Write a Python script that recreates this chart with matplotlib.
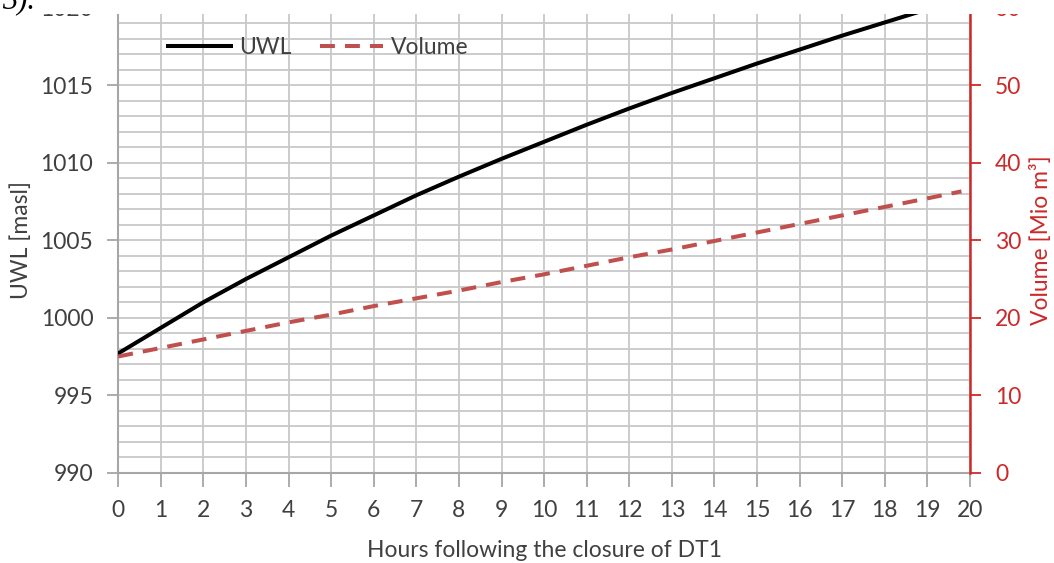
import matplotlib
matplotlib.use("Agg")
import matplotlib.pyplot as plt
from matplotlib.patches import Rectangle
from matplotlib.ticker import MultipleLocator

# ---- data ----
hours = [0, 1, 2, 3, 4, 5, 6, 7, 8, 9, 10, 11, 12, 13, 14, 15, 16, 17, 18, 19, 20]
uwl = [997.7, 999.35, 1001.0, 1002.5, 1003.9, 1005.3, 1006.6, 1007.9, 1009.1, 1010.25,
       1011.35, 1012.45, 1013.5, 1014.5, 1015.45, 1016.4, 1017.3, 1018.2, 1019.05, 1019.9, 1020.75]
vol_hours = [0, 1, 2, 3, 4, 5, 6, 7, 8, 9, 10, 11, 12, 13, 14, 15, 16, 17, 18, 19, 19.8]
volume = [15.0, 16.1, 17.2, 18.3, 19.4, 20.4, 21.5, 22.5, 23.5, 24.6, 25.6,
          26.7, 27.8, 28.8, 29.9, 31.0, 32.1, 33.2, 34.3, 35.4, 36.3]
x_ticks = list(range(0, 21))
left_ticks = [990, 995, 1000, 1005, 1010, 1015, 1020]
right_ticks = [0, 10, 20, 30, 40, 50, 60]

FONT = "Lato"
TXT = "#404040"
GRID = "#c8c8c8"
SPINE = "#a6a6a6"
AXRED = "#cc2a2a"
LINERED = "#c0504d"
FS = 16.5

plt.rcParams["font.family"] = [FONT, "DejaVu Sans"]

W, H = 1054, 563
fig = plt.figure(figsize=(W / 100, H / 100), dpi=100)
ax = fig.add_axes([118.3 / W, 90.3 / H, (970 - 118.3) / W, (472.7 - 7.7) / H])

ax.set_xlim(0, 20)
ax.set_ylim(990, 1020)
ax.set_xticks(x_ticks)
ax.set_yticks(left_ticks)
ax.yaxis.set_minor_locator(MultipleLocator(1))
ax.grid(True, which="both", color=GRID, lw=1.3)
ax.set_axisbelow(True)
ax.tick_params(axis="y", which="minor", length=0)
ax.tick_params(axis="x", direction="out", length=10, width=1.3, color=SPINE,
               labelsize=FS, labelcolor=TXT, pad=10)
ax.tick_params(axis="y", which="major", direction="out", length=8, width=1.3, color=SPINE,
               labelsize=FS, labelcolor=TXT, pad=10)
for s in ["left", "bottom"]:
    ax.spines[s].set_color(SPINE)
    ax.spines[s].set_linewidth(1.5)
ax.spines["top"].set_visible(False)
ax.spines["right"].set_visible(False)

l1, = ax.plot(hours, uwl, color="black", lw=2.9, label="UWL", zorder=3)
ax.set_ylabel("UWL [masl]", fontsize=FS, color=TXT, labelpad=6)
ax.set_xlabel("Hours following the closure of DT1", fontsize=FS, color=TXT, labelpad=13)

ax2 = ax.twinx()
ax2.set_ylim(0, 60)
ax2.set_yticks(right_ticks)
l2, = ax2.plot(vol_hours, volume, color=LINERED, lw=2.9, ls=(0, (3.7, 2.5)), label="Volume", zorder=3)
ax2.tick_params(axis="y", direction="out", length=8, width=1.3, color=AXRED,
                labelsize=FS, labelcolor=AXRED, pad=10)
ax2.spines["right"].set_color(AXRED)
ax2.spines["right"].set_linewidth(1.8)
for s in ["left", "bottom", "top"]:
    ax2.spines[s].set_visible(False)
ax2.set_ylabel("Volume [Mio m³]", fontsize=FS, color=AXRED, labelpad=6)

leg = ax.legend(handles=[l1, l2], loc="center left", bbox_to_anchor=(147 / W, 1 - 48 / H),
                bbox_transform=fig.transFigure, ncol=2, frameon=False, fontsize=FS,
                handlelength=2.75, handletextpad=0.35, columnspacing=1.25)
for t in leg.get_texts():
    t.set_color(TXT)

# cropped top of the source page
fig.patches.append(Rectangle((0, 1 - 14 / H), 1, 14 / H, transform=fig.transFigure,
                             facecolor="white", edgecolor="none", zorder=10))
fig.text(2 / W, 1 - 8 / H, "3).", fontsize=22, family="Liberation Serif", style="italic",
         va="baseline", ha="left", color="black", zorder=11)

fig.savefig("out.png", dpi=100, facecolor="white")
